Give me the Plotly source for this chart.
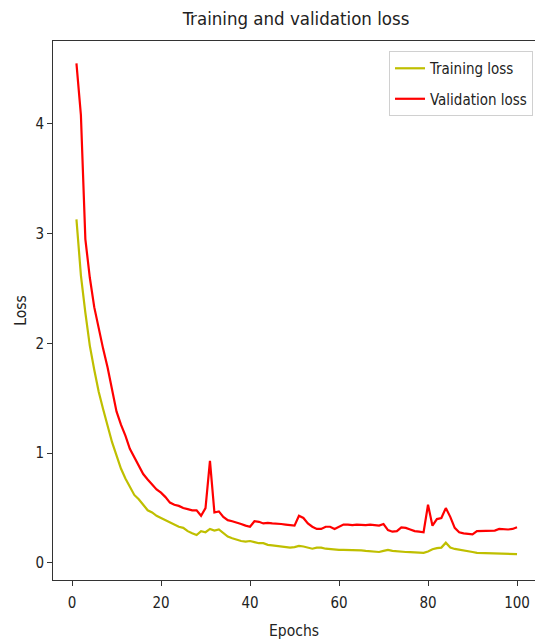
import plotly.graph_objects as go

epochs = list(range(1, 101))

training_loss = [
    3.13, 2.62, 2.28, 1.98, 1.76, 1.56, 1.40, 1.24, 1.10, 0.98,
    0.86, 0.77, 0.70, 0.62, 0.58, 0.53, 0.48, 0.46, 0.43, 0.41,
    0.39, 0.37, 0.35, 0.33, 0.32, 0.29, 0.27, 0.255, 0.29, 0.28,
    0.31, 0.295, 0.305, 0.27, 0.24, 0.225, 0.21, 0.20, 0.195, 0.20,
    0.19, 0.18, 0.18, 0.165, 0.16, 0.155, 0.155, 0.145, 0.14, 0.145,
    0.155, 0.15, 0.14, 0.13, 0.14, 0.14, 0.13, 0.125, 0.125, 0.12,
    0.12, 0.12, 0.118, 0.115, 0.115, 0.11, 0.105, 0.10, 0.10, 0.11,
    0.12, 0.11, 0.105, 0.102, 0.10, 0.098, 0.095, 0.093, 0.093, 0.105,
    0.125, 0.135, 0.14, 0.185, 0.14, 0.128, 0.122, 0.118, 0.11, 0.10,
    0.092, 0.09, 0.09, 0.088, 0.087, 0.085, 0.084, 0.082, 0.081, 0.08,
]

validation_loss = [
    4.55, 4.08, 2.95, 2.60, 2.33, 2.13, 1.95, 1.78, 1.58, 1.38,
    1.26, 1.16, 1.04, 0.96, 0.88, 0.81, 0.76, 0.71, 0.67, 0.64,
    0.60, 0.55, 0.53, 0.52, 0.50, 0.49, 0.48, 0.48, 0.43, 0.50,
    0.93, 0.46, 0.47, 0.42, 0.39, 0.38, 0.37, 0.355, 0.34, 0.33,
    0.38, 0.375, 0.36, 0.365, 0.36, 0.36, 0.355, 0.35, 0.345, 0.34,
    0.43, 0.41, 0.36, 0.33, 0.31, 0.31, 0.33, 0.33, 0.31, 0.33,
    0.35, 0.35, 0.345, 0.35, 0.345, 0.345, 0.35, 0.345, 0.34, 0.355,
    0.30, 0.285, 0.29, 0.325, 0.32, 0.305, 0.29, 0.285, 0.28, 0.53,
    0.34, 0.40, 0.41, 0.50, 0.42, 0.32, 0.28, 0.27, 0.265, 0.26,
    0.29, 0.29, 0.29, 0.29, 0.295, 0.31, 0.305, 0.305, 0.31, 0.325,
]

x_ticks = [0, 20, 40, 60, 80, 100]
y_ticks = [0, 1, 2, 3, 4]

FONT = "DejaVu Sans Condensed, DejaVu Sans, sans-serif"
TXT = "#222222"
AX = "#333333"

W, H = 535, 642

fig = go.Figure()
fig.add_trace(go.Scatter(x=epochs, y=training_loss, mode="lines", name="Training loss",
                         line=dict(color="#bfbf00", width=2.2), legendgroup="a"))
fig.add_trace(go.Scatter(x=epochs, y=validation_loss, mode="lines", name="Validation loss",
                         line=dict(color="#ff0000", width=2.2), legendgroup="b"))

fig.update_layout(
    width=W, height=H,
    margin=dict(l=53, r=0, t=41, b=62, autoexpand=False),
    paper_bgcolor="white", plot_bgcolor="white",
    font=dict(family=FONT, color=TXT, size=15),
    title=dict(text="Training and validation loss", x=296 / W, xanchor="center",
               y=1 - 19 / H, yanchor="middle", font=dict(size=18.5, family=FONT, color=TXT)),
    showlegend=True,
    legend=dict(x=0.9959, y=0.9814, xanchor="right", yanchor="top",
                bgcolor="white", bordercolor="#d0d0d0", borderwidth=1,
                font=dict(size=15, family=FONT, color=TXT),
                traceorder="grouped", tracegroupgap=8, itemwidth=30),
    xaxis=dict(range=[-4.27, 104.04], tickvals=x_ticks, ticks="outside", ticklen=5,
               tickcolor=AX, showline=True, linecolor=AX, linewidth=1, mirror=True,
               showgrid=False, zeroline=False, tickfont=dict(size=15), ticklabelstandoff=4,
               title=dict(text="Epochs", font=dict(size=15.5), standoff=14)),
    yaxis=dict(range=[-0.155, 4.754], tickvals=y_ticks, ticks="outside", ticklen=5,
               tickcolor=AX, showline=True, linecolor=AX, linewidth=1, mirror=False,
               showgrid=False, zeroline=False, tickfont=dict(size=15),
               title=dict(text="Loss", font=dict(size=15.5), standoff=4)),
)

# remove the page's default body margin so the figure sits at the window's corner
fig.write_html(
    "out.html",
    config={"displayModeBar": False},
    post_script="document.body.style.margin='0';document.body.style.overflow='hidden';",
)
